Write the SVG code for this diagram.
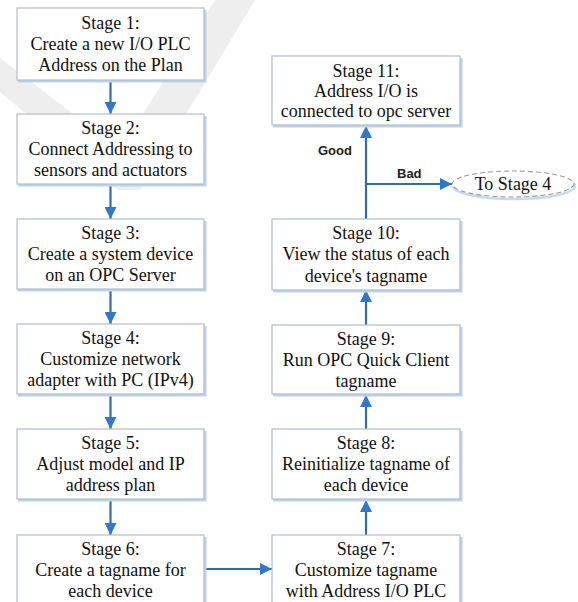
<svg xmlns="http://www.w3.org/2000/svg" width="578" height="602" viewBox="0 0 578 602">
<style>
.box{fill:#fff;stroke:#b4bcc6;stroke-width:1.2}
.sh{fill:none;stroke:#b9d3ef;stroke-width:3}
.t{font-family:"Liberation Serif","Times New Roman",serif;font-size:18px;fill:#111;text-anchor:middle}
.lb{font-family:"Liberation Sans",Arial,sans-serif;font-size:13px;font-weight:bold;fill:#222}
.ar{stroke:#2d6cb5;stroke-width:2.2;fill:none;marker-end:url(#ah)}
</style>
<defs>
<marker id="ah" viewBox="0 0 10 10" refX="10" refY="5" markerWidth="12" markerHeight="12" markerUnits="userSpaceOnUse" orient="auto">
<path d="M0,0 L10,5 L0,10 z" fill="#2f78cc"/>
</marker>
</defs>
<rect width="578" height="602" fill="#fff"/>
<path d="M0,58 L0,92 L118,190 L140,190 L255,0 L215,0 L120,150 Z" fill="#eeeeee"/>
<g id="connectors">
<line class="ar" x1="110.5" y1="80" x2="110.5" y2="114"/>
<line class="ar" x1="110.5" y1="185" x2="110.5" y2="219"/>
<line class="ar" x1="110.5" y1="290" x2="110.5" y2="324"/>
<line class="ar" x1="110.5" y1="395" x2="110.5" y2="429"/>
<line class="ar" x1="110.5" y1="500" x2="110.5" y2="535"/>
<line class="ar" x1="204" y1="569" x2="272" y2="569"/>
<line class="ar" x1="366" y1="535" x2="366" y2="500"/>
<line class="ar" x1="366" y1="429" x2="366" y2="395"/>
<line class="ar" x1="366" y1="325" x2="366" y2="290"/>
<line class="ar" x1="366" y1="219" x2="366" y2="126"/>
<line class="ar" x1="366" y1="184" x2="452" y2="184"/>
<text class="lb" x="318" y="155">Good</text>
<text class="lb" x="397" y="178">Bad</text>
</g>
<g id="s1"><path class="sh" d="M18,81 H205 V10"/><rect class="box" x="17" y="8" width="187" height="72"/>
<text class="t" x="110.5" y="29">Stage 1:</text><text class="t" x="110.5" y="50">Create a new I/O PLC</text><text class="t" x="110.5" y="71">Address on the Plan</text></g>
<g id="s2"><path class="sh" d="M18,185 H205 V116"/><rect class="box" x="17" y="114" width="187" height="70"/>
<text class="t" x="110.5" y="134">Stage 2:</text><text class="t" x="110.5" y="155">Connect Addressing to</text><text class="t" x="110.5" y="176">sensors and actuators</text></g>
<g id="s3"><path class="sh" d="M18,290 H205 V221"/><rect class="box" x="17" y="219" width="187" height="70"/>
<text class="t" x="110.5" y="239">Stage 3:</text><text class="t" x="110.5" y="260">Create a system device</text><text class="t" x="110.5" y="281">on an OPC Server</text></g>
<g id="s4"><path class="sh" d="M18,395 H205 V326"/><rect class="box" x="17" y="324" width="187" height="70"/>
<text class="t" x="110.5" y="344">Stage 4:</text><text class="t" x="110.5" y="365">Customize network</text><text class="t" x="110.5" y="386">adapter with PC (IPv4)</text></g>
<g id="s5"><path class="sh" d="M18,500 H205 V431"/><rect class="box" x="17" y="429" width="187" height="70"/>
<text class="t" x="110.5" y="449">Stage 5:</text><text class="t" x="110.5" y="470">Adjust model and IP</text><text class="t" x="110.5" y="491">address plan</text></g>
<g id="s6"><path class="sh" d="M205,537 V602"/><rect class="box" x="17" y="535" width="187" height="75"/>
<text class="t" x="110.5" y="555">Stage 6:</text><text class="t" x="110.5" y="576">Create a tagname for</text><text class="t" x="110.5" y="597">each device</text></g>
<g id="s7"><path class="sh" d="M461,537 V602"/><rect class="box" x="272" y="535" width="188" height="75"/>
<text class="t" x="366" y="555">Stage 7:</text><text class="t" x="366" y="576">Customize tagname</text><text class="t" x="366" y="597">with Address I/O PLC</text></g>
<g id="s8"><path class="sh" d="M273,500 H461 V431"/><rect class="box" x="272" y="429" width="188" height="70"/>
<text class="t" x="366" y="449">Stage 8:</text><text class="t" x="366" y="470">Reinitialize tagname of</text><text class="t" x="366" y="491">each device</text></g>
<g id="s9"><path class="sh" d="M273,395 H461 V327"/><rect class="box" x="272" y="325" width="188" height="69"/>
<text class="t" x="366" y="345">Stage 9:</text><text class="t" x="366" y="366">Run OPC Quick Client</text><text class="t" x="366" y="387">tagname</text></g>
<g id="s10"><path class="sh" d="M273,291 H461 V221"/><rect class="box" x="272" y="219" width="188" height="71"/>
<text class="t" x="366" y="239">Stage 10:</text><text class="t" x="366" y="260">View the status of each</text><text class="t" x="366" y="282">device's tagname</text></g>
<g id="s11"><path class="sh" d="M273,126 H461 V58"/><rect class="box" x="272" y="56" width="188" height="69"/>
<text class="t" x="366" y="77">Stage 11:</text><text class="t" x="366" y="97">Address I/O is</text><text class="t" x="366" y="117">connected to opc server</text></g>
<g id="to4"><ellipse cx="514" cy="186" rx="61" ry="13" fill="none" stroke="#c5daf0" stroke-width="2.5"/><ellipse cx="513" cy="184" rx="61" ry="13" fill="#fff" stroke="#9a9a9a" stroke-width="1.1" stroke-dasharray="5,3"/>
<text class="t" x="513" y="190">To Stage 4</text></g>
</svg>
